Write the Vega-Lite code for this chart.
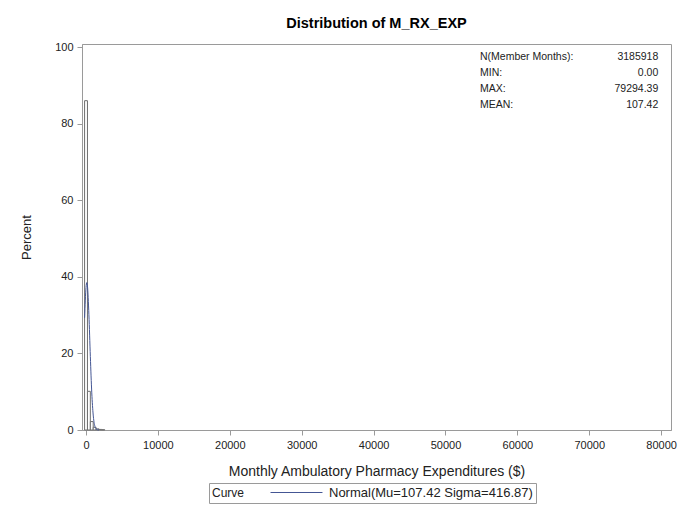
{
  "$schema": "https://vega.github.io/schema/vega-lite/v6.json",
  "width": 589,
  "height": 386,
  "autosize": {"type": "none"},
  "padding": {"left": 82, "top": 44, "right": 9, "bottom": 87},
  "background": "white",
  "title": {
    "text": "Distribution of M_RX_EXP",
    "fontSize": 14.5,
    "fontWeight": "bold",
    "font": "Liberation Sans",
    "color": "#000000",
    "anchor": "middle",
    "offset": 10
  },
  "config": {
    "font": "Liberation Sans",
    "view": {"stroke": "#9a9a9a", "strokeWidth": 1},
    "axis": {
      "grid": false,
      "domainColor": "#9a9a9a",
      "tickColor": "#9a9a9a",
      "tickSize": 5,
      "labelFont": "Liberation Sans",
      "labelFontSize": 11,
      "labelColor": "#222222",
      "titleFont": "Liberation Sans",
      "titleFontSize": 13,
      "titleFontWeight": "normal",
      "titleColor": "#222222"
    }
  },
  "datasets": {
    "hist": [
      {"bin_start": -200, "bin_end": 200, "percent": 86.0},
      {"bin_start": 200, "bin_end": 600, "percent": 10.1},
      {"bin_start": 600, "bin_end": 1000, "percent": 2.2},
      {"bin_start": 1000, "bin_end": 1400, "percent": 0.7},
      {"bin_start": 1400, "bin_end": 1800, "percent": 0.3},
      {"bin_start": 1800, "bin_end": 2200, "percent": 0.15},
      {"bin_start": 2200, "bin_end": 2600, "percent": 0.08}
    ],
    "curve": [
      {"x": -200, "percent": 29.3, "series": "Normal(Mu=107.42 Sigma=416.87)"},
      {"x": 0, "percent": 37.2, "series": "Normal(Mu=107.42 Sigma=416.87)"},
      {"x": 107, "percent": 38.5, "series": "Normal(Mu=107.42 Sigma=416.87)"},
      {"x": 200, "percent": 37.6, "series": "Normal(Mu=107.42 Sigma=416.87)"},
      {"x": 400, "percent": 30.1, "series": "Normal(Mu=107.42 Sigma=416.87)"},
      {"x": 600, "percent": 19.2, "series": "Normal(Mu=107.42 Sigma=416.87)"},
      {"x": 800, "percent": 9.7, "series": "Normal(Mu=107.42 Sigma=416.87)"},
      {"x": 1000, "percent": 3.9, "series": "Normal(Mu=107.42 Sigma=416.87)"},
      {"x": 1200, "percent": 1.24, "series": "Normal(Mu=107.42 Sigma=416.87)"},
      {"x": 1400, "percent": 0.32, "series": "Normal(Mu=107.42 Sigma=416.87)"},
      {"x": 1600, "percent": 0.06, "series": "Normal(Mu=107.42 Sigma=416.87)"},
      {"x": 1800, "percent": 0.01, "series": "Normal(Mu=107.42 Sigma=416.87)"}
    ],
    "stats": [
      {"stat": "N(Member Months):", "value": "3185918"},
      {"stat": "MIN:", "value": "0.00"},
      {"stat": "MAX:", "value": "79294.39"},
      {"stat": "MEAN:", "value": "107.42"}
    ]
  },
  "layer": [
    {
      "layer": [
        {
          "data": {"name": "hist"},
          "mark": {"type": "rect", "fill": "#ffffff", "stroke": "#6e6e6e", "strokeWidth": 1},
          "encoding": {
            "x": {
              "field": "bin_start",
              "type": "quantitative",
              "scale": {"domain": [-560, 81370], "nice": false, "zero": false},
              "axis": {
                "values": [0, 10000, 20000, 30000, 40000, 50000, 60000, 70000, 80000],
                "format": "d",
                "labelPadding": 4,
                "titlePadding": 14,
                "titleFontSize": 14
              },
              "title": "Monthly Ambulatory Pharmacy Expenditures ($)"
            },
            "x2": {"field": "bin_end"},
            "y": {
              "field": "percent",
              "type": "quantitative",
              "scale": {"domain": [0, 100.8], "nice": false},
              "axis": {"values": [0, 20, 40, 60, 80, 100], "labelPadding": 4, "titlePadding": 21},
              "title": "Percent"
            },
            "y2": {"datum": 0}
          }
        },
        {
          "data": {"name": "curve"},
          "mark": {"type": "line", "strokeWidth": 1, "interpolate": "monotone"},
          "encoding": {
            "x": {"field": "x", "type": "quantitative"},
            "y": {"field": "percent", "type": "quantitative"},
            "color": {
              "field": "series",
              "type": "nominal",
              "scale": {"range": ["#445694"]},
              "legend": {
                "title": "Curve",
                "orient": "none",
                "legendX": 127,
                "legendY": 439,
                "direction": "horizontal",
                "titleOrient": "left",
                "titleBaseline": "middle",
                "titleFontWeight": "normal",
                "titleFontSize": 12,
                "titleColor": "#222222",
                "titlePadding": 45,
                "labelFontSize": 13,
                "labelColor": "#222222",
                "labelLimit": 0,
                "labelOffset": 26,
                "symbolType": "M-4.33,0H4.33",
                "symbolSize": 144,
                "symbolStrokeWidth": 1,
                "symbolFillColor": "transparent",
                "strokeColor": "#9a9a9a",
                "padding": 3
              }
            }
          }
        }
      ]
    },
    {
      "data": {"name": "stats"},
      "mark": {"type": "text", "align": "left", "baseline": "middle", "fontSize": 10.5, "color": "#222222"},
      "encoding": {
        "x": {"datum": 54800, "type": "quantitative"},
        "y": {
          "field": "stat",
          "type": "nominal",
          "sort": null,
          "scale": {"type": "point", "range": [13, 61], "padding": 0},
          "axis": null
        },
        "text": {"field": "stat"}
      }
    },
    {
      "data": {"name": "stats"},
      "mark": {"type": "text", "align": "right", "baseline": "middle", "fontSize": 10.5, "color": "#222222"},
      "encoding": {
        "x": {"datum": 79600, "type": "quantitative"},
        "y": {
          "field": "stat",
          "type": "nominal",
          "sort": null,
          "scale": {"type": "point", "range": [13, 61], "padding": 0},
          "axis": null
        },
        "text": {"field": "value"}
      }
    }
  ],
  "resolve": {"scale": {"y": "independent"}}
}
